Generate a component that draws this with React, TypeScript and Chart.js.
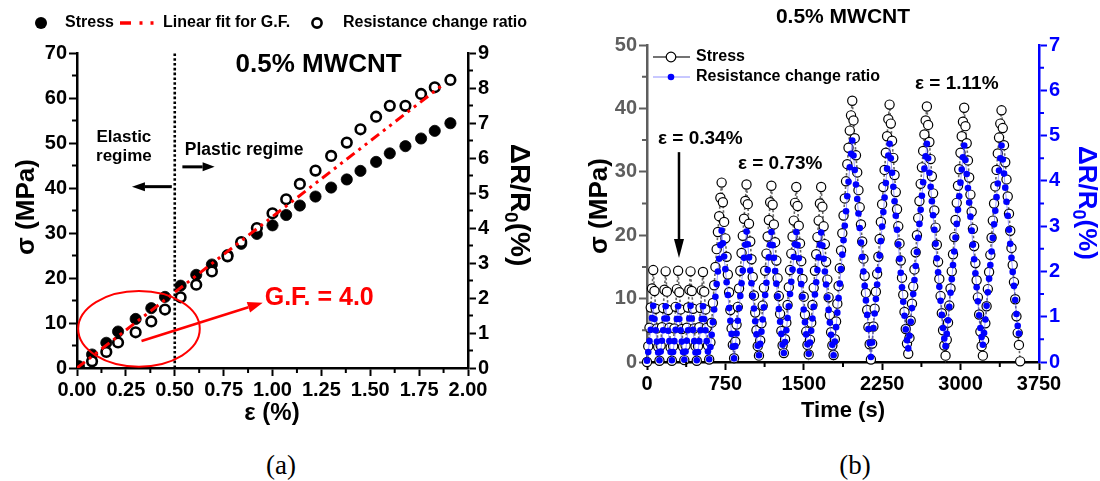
import React, { useEffect, useRef } from 'react';
import { Chart, registerables } from 'chart.js';

Chart.register(...registerables);

const SANS = '"Liberation Sans", Arial, Helvetica, sans-serif';
const SERIF = '"Liberation Serif", "Times New Roman", serif';
Chart.defaults.font.family = SANS;

// ---------------- Panel (a): tensile test ----------------
const strainPct = [0.01, 0.077, 0.15, 0.21, 0.3, 0.38, 0.45, 0.53, 0.61, 0.69, 0.77, 0.84, 0.92, 1.0, 1.07, 1.14, 1.22, 1.3, 1.38, 1.45, 1.53, 1.6, 1.68, 1.76, 1.83, 1.91];
const stressA = [0.4, 3.0, 5.6, 8.1, 10.9, 13.3, 15.8, 18.3, 20.7, 23.0, 25.1, 27.6, 29.8, 31.7, 34.0, 36.1, 38.1, 40.1, 41.9, 43.8, 45.8, 47.7, 49.3, 51.0, 52.7, 54.4];
const resistanceA = [null, 0.19, 0.46, 0.73, 1.02, 1.33, 1.67, 2.02, 2.38, 2.76, 3.19, 3.6, 4.0, 4.42, 4.82, 5.26, 5.64, 6.06, 6.44, 6.82, 7.18, 7.49, 7.49, 7.83, 8.02, 8.23];
const fitStrain = [0, 1.88];
const fitRatio = [0, 8.13];
const elasticLimitPct = 0.5;

// ---------------- Panel (b): cyclic test ----------------
const sampleIntervalS = 11.9;
const stressPhase1 = [
  0.0, 2.5, 5.4, 8.6, 11.6, 14.5, 11.2, 8.4, 5.3, 2.4,
  0.2, 2.6, 5.5, 8.5, 11.4, 14.3, 11.1, 8.2, 5.4, 2.3,
  0.2, 2.5, 5.3, 8.7, 11.5, 14.4, 11.0, 8.3, 5.2, 2.4,
  0.3, 2.6, 5.4, 8.6, 11.4, 14.3, 11.2, 8.4, 5.3, 2.5,
  0.2, 2.5, 5.5, 8.5, 11.3, 14.2, 11.1, 8.3, 5.4, 2.6,
];
const stressPhase2 = [
  0.4, 3.1, 6.2, 9.3, 12.1, 15.0, 17.8, 20.5, 23.0, 25.9, 28.3, 25.2, 22.1, 19.5, 16.6, 13.8, 11.0, 8.2, 5.3, 2.7,
  0.6, 3.2, 5.9, 8.7, 11.6, 14.4, 17.2, 19.9, 22.6, 25.4, 28.0, 24.9, 21.8, 19.0, 16.2, 13.4, 10.5, 7.8, 5.0, 2.5,
  1.0, 3.4, 6.1, 8.9, 11.7, 14.4, 17.1, 19.8, 22.4, 25.2, 27.8, 24.8, 21.7, 18.9, 16.0, 13.2, 10.4, 7.6, 4.9, 2.6,
  1.4, 3.6, 6.2, 9.0, 11.8, 14.5, 17.1, 19.8, 22.3, 25.1, 27.6, 24.6, 21.5, 18.7, 15.9, 13.1, 10.3, 7.5, 4.8, 2.7,
  1.2, 3.5, 6.2, 9.0, 11.7, 14.4, 17.0, 19.7, 22.3, 25.0, 27.6, 24.5, 21.4, 18.6, 15.8, 13.0, 10.2, 7.4, 4.7, 2.6,
];
const stressPhase3 = [
  1.1, 3.6, 6.4, 9.2, 12.0, 14.8, 17.6, 20.3, 23.1, 25.8, 28.5, 31.2, 33.8, 36.5, 38.9,
  41.2, 38.1, 35.3, 32.6, 29.9, 27.1, 24.4, 21.7, 19.0, 16.3, 13.6, 10.9, 8.2, 5.5, 2.8,
  0.4, 2.9, 5.6, 8.4, 11.1, 13.9, 16.6, 19.4, 22.1, 24.9, 27.6, 30.3, 33.0, 35.6, 38.3,
  40.6, 37.6, 34.9, 32.2, 29.5, 26.8, 24.1, 21.4, 18.7, 16.0, 13.3, 10.6, 7.9, 5.2, 2.9,
  1.3, 3.8, 6.5, 9.2, 11.9, 14.6, 17.3, 20.0, 22.7, 25.4, 28.1, 30.7, 33.3, 35.9, 38.1,
  40.3, 37.4, 34.7, 32.0, 29.3, 26.6, 23.9, 21.2, 18.5, 15.8, 13.1, 10.4, 7.7, 5.0, 2.6,
  1.0, 3.5, 6.2, 8.9, 11.6, 14.3, 17.0, 19.7, 22.4, 25.1, 27.8, 30.4, 33.0, 35.6, 37.9,
  40.1, 37.2, 34.5, 31.8, 29.1, 26.4, 23.7, 21.0, 18.3, 15.6, 12.9, 10.2, 7.5, 4.8, 2.5,
  1.0, 3.4, 6.1, 8.8, 11.5, 14.2, 16.9, 19.6, 22.3, 25.0, 27.7, 30.3, 32.9, 35.4, 37.6,
  39.7, 36.9, 34.2, 31.5, 28.8, 26.1, 23.4, 20.7, 18.0, 15.3, 12.6, 9.9, 7.2, 4.6, 2.7, 0.1,
];
const resistPhase1 = [
  0.03, 0.22, 0.46, 0.71, 0.97, 1.24, 0.95, 0.70, 0.45, 0.21,
  0.04, 0.23, 0.47, 0.70, 0.96, 1.23, 0.96, 0.69, 0.46, 0.22,
  0.04, 0.22, 0.46, 0.71, 0.95, 1.23, 0.95, 0.70, 0.45, 0.22,
  0.05, 0.23, 0.47, 0.70, 0.96, 1.24, 0.96, 0.71, 0.46, 0.21,
  0.04, 0.22, 0.46, 0.70, 0.95, 1.23, 0.95, 0.70, 0.46, 0.23,
];
const resistPhase2 = [
  0.06, 0.33, 0.60, 0.88, 1.16, 1.44, 1.72, 2.00, 2.28, 2.58, 2.90, 2.62, 2.33, 2.05, 1.76, 1.48, 1.19, 0.91, 0.62, 0.34,
  0.08, 0.35, 0.63, 0.91, 1.19, 1.46, 1.74, 2.02, 2.30, 2.59, 2.88, 2.60, 2.31, 2.02, 1.74, 1.46, 1.18, 0.90, 0.61, 0.36,
  0.15, 0.40, 0.67, 0.94, 1.21, 1.48, 1.75, 2.03, 2.31, 2.59, 2.87, 2.58, 2.30, 2.01, 1.73, 1.45, 1.17, 0.89, 0.62, 0.38,
  0.20, 0.44, 0.70, 0.97, 1.23, 1.50, 1.77, 2.04, 2.32, 2.60, 2.87, 2.58, 2.29, 2.01, 1.72, 1.44, 1.16, 0.88, 0.61, 0.39,
  0.18, 0.43, 0.69, 0.96, 1.22, 1.49, 1.76, 2.03, 2.31, 2.59, 2.86, 2.57, 2.28, 2.00, 1.71, 1.43, 1.15, 0.87, 0.60, 0.38,
];
const resistPhase3 = [
  0.15, 0.45, 0.77, 1.09, 1.41, 1.73, 2.05, 2.37, 2.69, 3.01, 3.33, 3.66, 3.98, 4.30, 4.60,
  4.89, 4.56, 4.24, 3.92, 3.60, 3.28, 2.96, 2.64, 2.32, 2.00, 1.68, 1.36, 1.04, 0.73, 0.42,
  0.11, 0.43, 0.75, 1.07, 1.39, 1.71, 2.03, 2.35, 2.67, 2.99, 3.31, 3.63, 3.95, 4.27, 4.56,
  4.82, 4.50, 4.18, 3.87, 3.55, 3.23, 2.92, 2.60, 2.28, 1.97, 1.65, 1.33, 1.02, 0.72, 0.48,
  0.30, 0.58, 0.89, 1.19, 1.50, 1.81, 2.12, 2.43, 2.74, 3.05, 3.36, 3.67, 3.97, 4.27, 4.54,
  4.82, 4.50, 4.18, 3.87, 3.55, 3.24, 2.92, 2.61, 2.29, 1.98, 1.66, 1.35, 1.04, 0.75, 0.52,
  0.35, 0.62, 0.92, 1.22, 1.53, 1.83, 2.14, 2.44, 2.75, 3.05, 3.36, 3.66, 3.96, 4.25, 4.52,
  4.78, 4.46, 4.15, 3.84, 3.52, 3.21, 2.90, 2.59, 2.27, 1.96, 1.65, 1.34, 1.03, 0.75, 0.55,
  0.38, 0.64, 0.94, 1.24, 1.54, 1.84, 2.14, 2.44, 2.74, 3.04, 3.34, 3.64, 3.94, 4.23, 4.50,
  4.78, 4.47, 4.16, 3.85, 3.54, 3.23, 2.92, 2.61, 2.30, 1.99, 1.68, 1.37, 1.06, 0.80, 0.63, null,
];
const stressB = [...stressPhase1, ...stressPhase2, ...stressPhase3];
const resistanceB = [...resistPhase1, ...resistPhase2, ...resistPhase3];
const timeS = stressB.map((_, i) => i * sampleIntervalS);

// ---------------- helpers ----------------
type Ctx = CanvasRenderingContext2D;

function txt(ctx: Ctx, s: string, x: number, y: number, size: number, color = '#000', align: CanvasTextAlign = 'left', base: CanvasTextBaseline = 'alphabetic', rot = 0, family = SANS, weight = 'bold') {
  ctx.save();
  ctx.font = `${weight} ${size}px ${family}`;
  ctx.fillStyle = color;
  ctx.textAlign = align;
  ctx.textBaseline = base;
  ctx.translate(x, y);
  if (rot) ctx.rotate(rot);
  ctx.fillText(s, 0, 0);
  ctx.restore();
}

function ratioTitle(ctx: Ctx, cx: number, cy: number, size: number, color: string) {
  const main = `bold ${size}px ${SANS}`;
  const sub = `bold ${Math.round(size * 0.68)}px ${SANS}`;
  const parts = [
    { t: 'ΔR/R', f: main, dy: 0 },
    { t: '0', f: sub, dy: size * 0.3 },
    { t: '(%)', f: main, dy: 0 },
  ];
  ctx.save();
  let total = 0;
  const widths = parts.map((p) => { ctx.font = p.f; const w = ctx.measureText(p.t).width; total += w; return w; });
  ctx.translate(cx, cy);
  ctx.rotate(Math.PI / 2);
  ctx.fillStyle = color;
  ctx.textBaseline = 'middle';
  ctx.textAlign = 'left';
  let x = -total / 2;
  parts.forEach((p, i) => { ctx.font = p.f; ctx.fillText(p.t, x, p.dy); x += widths[i]; });
  ctx.restore();
}

function arrow(ctx: Ctx, x1: number, y1: number, x2: number, y2: number, color: string, lw: number, headLen: number, headHalf: number) {
  const a = Math.atan2(y2 - y1, x2 - x1);
  const bx = x2 - headLen * Math.cos(a);
  const by = y2 - headLen * Math.sin(a);
  ctx.save();
  ctx.strokeStyle = color;
  ctx.fillStyle = color;
  ctx.lineWidth = lw;
  ctx.beginPath(); ctx.moveTo(x1, y1); ctx.lineTo(bx, by); ctx.stroke();
  ctx.beginPath();
  ctx.moveTo(x2, y2);
  ctx.lineTo(bx + headHalf * Math.sin(a), by - headHalf * Math.cos(a));
  ctx.lineTo(bx - headHalf * Math.sin(a), by + headHalf * Math.cos(a));
  ctx.closePath(); ctx.fill();
  ctx.restore();
}

function minorTicks(chart: any, id: string, major: number, len: number, color: string, width: number) {
  const s = chart.scales[id];
  const ctx: Ctx = chart.ctx;
  ctx.save();
  ctx.strokeStyle = color; ctx.lineWidth = width; ctx.beginPath();
  for (let v = s.min + major / 2; v < s.max; v += major) {
    const p = s.getPixelForValue(v);
    if (s.isHorizontal()) { ctx.moveTo(p, s.top); ctx.lineTo(p, s.top + len); }
    else if (s.position === 'left') { ctx.moveTo(s.right, p); ctx.lineTo(s.right - len, p); }
    else { ctx.moveTo(s.left, p); ctx.lineTo(s.left + len, p); }
  }
  ctx.stroke(); ctx.restore();
}

function axis(color: string, min: number, max: number, step: number, position: string, size: number, fmt: (v: number) => string, extra: any = {}) {
  return {
    type: 'linear', position, min, max,
    ticks: { stepSize: step, autoSkip: false, maxRotation: 0, color, padding: 2, font: { family: SANS, size: 20, weight: 'bold' }, callback: (v: any) => fmt(Number(v)) },
    grid: { drawOnChartArea: false, drawTicks: true, tickLength: 8, tickWidth: 2, tickColor: color, color },
    border: { display: true, color, width: 2.5 },
    afterFit: (s: any) => { if (position === 'bottom') s.height = size; else s.width = size; },
    ...extra,
  };
}

// ---------------- panel (a) plugin ----------------
const panelAPlugin = {
  id: 'panelA',
  beforeDatasetsDraw(chart: any) {
    const { ctx, scales: { x, y } } = chart;
    const px = x.getPixelForValue(elasticLimitPct);
    ctx.save();
    ctx.strokeStyle = '#000'; ctx.lineWidth = 2.6; ctx.setLineDash([2.6, 2.2]);
    ctx.beginPath(); ctx.moveTo(px, y.getPixelForValue(0)); ctx.lineTo(px, y.getPixelForValue(70)); ctx.stroke();
    ctx.restore();
  },
  afterDatasetsDraw(chart: any) {
    const { ctx, scales: { x, y } } = chart;
    minorTicks(chart, 'x', 0.25, 5, '#000', 2);
    minorTicks(chart, 'y', 10, 5, '#000', 2);
    minorTicks(chart, 'yR', 1, 5, '#000', 2);
    // ellipse
    const cx = x.getPixelForValue(0.317), cy = y.getPixelForValue(8.7);
    const rx = x.getPixelForValue(0.317 + 0.311) - cx, ry = cy - y.getPixelForValue(8.7 + 8.4);
    ctx.save(); ctx.strokeStyle = '#ff0000'; ctx.lineWidth = 2;
    ctx.beginPath(); ctx.ellipse(cx, cy, rx, ry, 0, 0, Math.PI * 2); ctx.stroke(); ctx.restore();
    arrow(ctx, x.getPixelForValue(0.33), y.getPixelForValue(6.0), x.getPixelForValue(0.95), y.getPixelForValue(14.5), '#ff0000', 2.5, 15, 5.5);
    txt(ctx, 'G.F. = 4.0', x.getPixelForValue(0.96), y.getPixelForValue(14.0), 25, '#ff0000');
    // regimes
    arrow(ctx, x.getPixelForValue(0.485), y.getPixelForValue(40.3), x.getPixelForValue(0.281), y.getPixelForValue(40.3), '#000', 3, 13, 4.5);
    arrow(ctx, x.getPixelForValue(0.539), y.getPixelForValue(44.7), x.getPixelForValue(0.704), y.getPixelForValue(44.7), '#000', 3, 12, 4.5);
    txt(ctx, 'Elastic', x.getPixelForValue(0.24), y.getPixelForValue(50.3), 17, '#000', 'center');
    txt(ctx, 'regime', x.getPixelForValue(0.24), y.getPixelForValue(45.9), 17, '#000', 'center');
    txt(ctx, 'Plastic regime', x.getPixelForValue(0.551), y.getPixelForValue(47.3), 17.5, '#000', 'left');
    txt(ctx, '0.5% MWCNT', x.getPixelForValue(0.811), y.getPixelForValue(67.3), 26, '#000', 'left', 'middle');
  },
  afterDraw(chart: any) {
    const ctx: Ctx = chart.ctx;
    // titles
    txt(ctx, 'σ (MPa)', 27, 207, 26, '#000', 'center', 'middle', -Math.PI / 2);
    txt(ctx, 'ε (%)', 272, 413, 24, '#000', 'center', 'middle');
    ratioTitle(ctx, 519, 205, 28, '#000');
    // legend
    const ly = 23;
    ctx.save();
    ctx.fillStyle = '#000';
    ctx.beginPath(); ctx.arc(41, ly, 6, 0, Math.PI * 2); ctx.fill();
    ctx.strokeStyle = '#ff0000'; ctx.lineWidth = 3.5;
    ctx.beginPath(); ctx.moveTo(120, ly); ctx.lineTo(131, ly); ctx.moveTo(139.5, ly); ctx.lineTo(142.5, ly); ctx.moveTo(150.5, ly); ctx.lineTo(153.5, ly); ctx.stroke();
    ctx.strokeStyle = '#000'; ctx.lineWidth = 2.6; ctx.fillStyle = '#fff';
    ctx.beginPath(); ctx.arc(317, ly, 4.6, 0, Math.PI * 2); ctx.fill(); ctx.stroke();
    ctx.restore();
    txt(ctx, 'Stress', 65, ly, 16, '#000', 'left', 'middle');
    txt(ctx, 'Linear fit for G.F.', 163, ly, 16, '#000', 'left', 'middle');
    txt(ctx, 'Resistance change ratio', 343, ly, 16, '#000', 'left', 'middle');
  },
};

// ---------------- panel (b) plugin ----------------
const GREY = '#5e5e5e';
const BLUE = '#0000ff';
const panelBPlugin = {
  id: 'panelB',
  afterDatasetsDraw(chart: any) {
    const { ctx, scales: { x, y } } = chart;
    minorTicks(chart, 'x', 750, 5, '#000', 2);
    minorTicks(chart, 'y', 10, 5, GREY, 2);
    minorTicks(chart, 'yR', 1, 5, BLUE, 2);
    txt(ctx, 'ε = 0.34%', x.getPixelForValue(105), y.getPixelForValue(34.4), 19, '#000', 'left');
    txt(ctx, 'ε = 0.73%', x.getPixelForValue(870), y.getPixelForValue(30.5), 19, '#000', 'left');
    txt(ctx, 'ε = 1.11%', x.getPixelForValue(2564), y.getPixelForValue(43.1), 19, '#000', 'left');
    arrow(ctx, x.getPixelForValue(306), y.getPixelForValue(33.1), x.getPixelForValue(306), y.getPixelForValue(16.4), '#000', 2.5, 19, 5);
  },
  afterDraw(chart: any) {
    const ctx: Ctx = chart.ctx;
    txt(ctx, '0.5% MWCNT', 293, 17, 21, '#000', 'center', 'middle');
    txt(ctx, 'σ (MPa)', 50, 206, 26, '#000', 'center', 'middle', -Math.PI / 2);
    txt(ctx, 'Time (s)', 293, 411, 22, '#000', 'center', 'middle');
    ratioTitle(ctx, 536, 203, 26, BLUE);
    // legend
    const l = chart.chartArea.left;
    const y1 = 57, y2 = 77;
    ctx.save();
    ctx.strokeStyle = '#444'; ctx.lineWidth = 1.5;
    ctx.beginPath(); ctx.moveTo(l + 6, y1); ctx.lineTo(l + 43, y1); ctx.stroke();
    ctx.fillStyle = '#fff'; ctx.strokeStyle = '#000'; ctx.lineWidth = 1.2;
    ctx.beginPath(); ctx.arc(l + 24, y1, 4.8, 0, Math.PI * 2); ctx.fill(); ctx.stroke();
    ctx.strokeStyle = 'rgba(90,90,255,0.75)'; ctx.lineWidth = 0.9;
    ctx.beginPath(); ctx.moveTo(l + 6, y2); ctx.lineTo(l + 43, y2); ctx.stroke();
    ctx.fillStyle = BLUE;
    ctx.beginPath(); ctx.arc(l + 24, y2, 3.3, 0, Math.PI * 2); ctx.fill();
    ctx.restore();
    txt(ctx, 'Stress', l + 49, y1, 16, '#000', 'left', 'middle');
    txt(ctx, 'Resistance change ratio', l + 49, y2, 16, '#000', 'left', 'middle');
  },
};

export default function App() {
  const refA = useRef<HTMLCanvasElement>(null);
  const refB = useRef<HTMLCanvasElement>(null);

  useEffect(() => {
    const f2 = (v: number) => v.toFixed(2);
    const f0 = (v: number) => String(Math.round(v));
    const chartA = new Chart(refA.current as HTMLCanvasElement, {
      type: 'scatter',
      data: {
        datasets: [
          {
            label: 'Linear fit for G.F.', yAxisID: 'yR', order: 0, showLine: true,
            data: fitStrain.map((v, i) => ({ x: v, y: fitRatio[i] })),
            borderColor: '#ff0000', borderWidth: 3, borderDash: [10, 5, 3, 5, 3, 5], pointRadius: 0,
          },
          {
            label: 'Resistance change ratio', yAxisID: 'yR', order: 1,
            data: strainPct.map((v, i) => ({ x: v, y: resistanceA[i] })),
            pointRadius: 4.8, pointBorderWidth: 2.6, pointBorderColor: '#000', pointBackgroundColor: '#fff', clip: false,
          },
          {
            label: 'Stress', yAxisID: 'y', order: 2,
            data: strainPct.map((v, i) => ({ x: v, y: stressA[i] })),
            pointRadius: 5.6, pointBorderWidth: 0.8, pointBorderColor: '#000', pointBackgroundColor: '#000',
          },
        ],
      } as any,
      options: {
        animation: false, responsive: false, events: [],
        layout: { padding: { top: 53, left: 0, right: 0, bottom: 0 } },
        plugins: { legend: { display: false }, tooltip: { enabled: false } },
        scales: {
          x: axis('#000', 0, 2, 0.25, 'bottom', 72, f2),
          y: axis('#000', 0, 70, 10, 'left', 77, f0),
          yR: axis('#000', 0, 9, 1, 'right', 82, f0),
        } as any,
      },
      plugins: [panelAPlugin],
    });

    const chartB = new Chart(refB.current as HTMLCanvasElement, {
      type: 'scatter',
      data: {
        datasets: [
          {
            label: 'Resistance change ratio', yAxisID: 'yR', order: 0, showLine: true, clip: false,
            data: timeS.map((t, i) => ({ x: t, y: resistanceB[i] })),
            borderColor: 'rgba(90,90,255,0.75)', borderWidth: 0.8,
            pointRadius: 3.3, pointBorderWidth: 0, pointBackgroundColor: BLUE, pointBorderColor: BLUE,
          },
          {
            label: 'Stress', yAxisID: 'y', order: 1, showLine: true, clip: false,
            data: timeS.map((t, i) => ({ x: t, y: stressB[i] })),
            borderColor: '#666', borderWidth: 1.6, borderDash: [2.5, 2],
            pointRadius: 4.6, pointBorderWidth: 1.2, pointBorderColor: '#000', pointBackgroundColor: '#fff',
          },
        ],
      } as any,
      options: {
        animation: false, responsive: false, events: [],
        layout: { padding: { top: 45, left: 0, right: 0, bottom: 0 } },
        plugins: { legend: { display: false }, tooltip: { enabled: false } },
        scales: {
          x: axis('#000', 0, 3750, 750, 'bottom', 78, f0),
          y: axis(GREY, 0, 50, 10, 'left', 97, f0),
          yR: axis(BLUE, 0, 7, 1, 'right', 61, f0),
        } as any,
      },
      plugins: [panelBPlugin],
    });

    return () => { chartA.destroy(); chartB.destroy(); };
  }, []);

  const cap: React.CSSProperties = { position: 'absolute', top: 447, fontFamily: SERIF, fontSize: 27, color: '#000', lineHeight: '36px', transform: 'translateX(-50%)' };
  return (
    <div style={{ position: 'fixed', left: 0, top: 0, width: 1100, height: 481, background: '#fff', overflow: 'hidden' }}>
      <canvas ref={refA} width={550} height={440} style={{ position: 'absolute', left: 0, top: 0, width: 550, height: 440 }} />
      <canvas ref={refB} width={550} height={440} style={{ position: 'absolute', left: 550, top: 0, width: 550, height: 440 }} />
      <div style={{ ...cap, left: 281 }}>(a)</div>
      <div style={{ ...cap, left: 855 }}>(b)</div>
    </div>
  );
}
